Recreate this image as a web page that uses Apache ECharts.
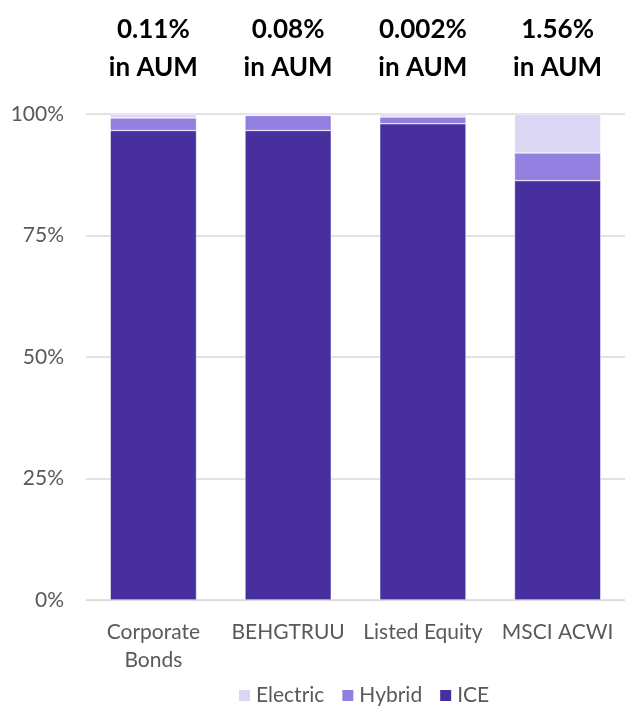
<html>
<head>
    <meta charset="utf-8">
    <title>AUM</title>
    <script src="https://cdn.jsdelivr.net/npm/echarts@6/dist/echarts.min.js"></script>
</head>
<body style="margin:0">
    <div id="chartmain" style="width:625px; height:711px;"></div>
    <script type="text/javascript">
        // categories and share of each drivetrain (fraction of 1)
        var categories = ['Corporate\nBonds', 'BEHGTRUU', 'Listed Equity', 'MSCI ACWI'];
        var aumLabels = ['0.11%', '0.08%', '0.002%', '1.56%'];
        var ice = [0.966, 0.966, 0.980, 0.863];
        var hybrid = [0.026, 0.031, 0.014, 0.057];
        var electric = [0.008, 0.003, 0.006, 0.080];
        var yTicks = [0, 0.25, 0.5, 0.75, 1];

        var font = 'Lato';
        var myChart = echarts.init(document.getElementById('chartmain'));

        myChart.setOption({
            textStyle: { fontFamily: font },
            grid: { left: 86, right: -1, top: 114, bottom: 111 },
            legend: {
                data: ['Electric', 'Hybrid', 'ICE'],
                left: 232,
                top: 680,
                icon: 'rect',
                itemWidth: 13,
                itemHeight: 13,
                itemGap: 16,
                itemTextGap: 6,
                textStyle: { fontSize: 21, color: '#595959', fontFamily: font }
            },
            xAxis: [
                {
                    type: 'category',
                    data: categories,
                    axisLine: { lineStyle: { color: '#d9d9d9' } },
                    axisTick: { show: false },
                    axisLabel: { fontSize: 21, color: '#595959', margin: 18, lineHeight: 28, interval: 0 }
                },
                {
                    type: 'category',
                    position: 'top',
                    data: aumLabels,
                    axisLine: { show: false },
                    axisTick: { show: false },
                    axisLabel: {
                        interval: 0,
                        margin: 27,
                        fontSize: 26,
                        fontWeight: 'bold',
                        color: '#000',
                        lineHeight: 38,
                        formatter: function (v) { return v + '\nin AUM'; }
                    }
                }
            ],
            yAxis: {
                type: 'value',
                min: yTicks[0],
                max: yTicks[yTicks.length - 1],
                interval: 0.25,
                axisLine: { show: false },
                axisTick: { show: false },
                splitLine: { lineStyle: { color: '#d9d9d9', width: 1.5 } },
                axisLabel: {
                    fontSize: 21,
                    color: '#595959',
                    margin: 22,
                    formatter: function (v) { return Math.round(v * 100) + '%'; }
                }
            },
            series: [
                {
                    name: 'ICE', type: 'bar', stack: 'a', data: ice, barWidth: '64%',
                    itemStyle: { color: '#472fa0', borderColor: '#ffffff', borderWidth: 0.5 }
                },
                {
                    name: 'Hybrid', type: 'bar', stack: 'a', data: hybrid, barWidth: '64%',
                    itemStyle: { color: '#937fe0', borderColor: '#ffffff', borderWidth: 0.5 }
                },
                {
                    name: 'Electric', type: 'bar', stack: 'a', data: electric, barWidth: '64%',
                    itemStyle: { color: '#dcd6f5', borderColor: '#ffffff', borderWidth: 0.5 }
                }
            ]
        });
    </script>
</body>
</html>
